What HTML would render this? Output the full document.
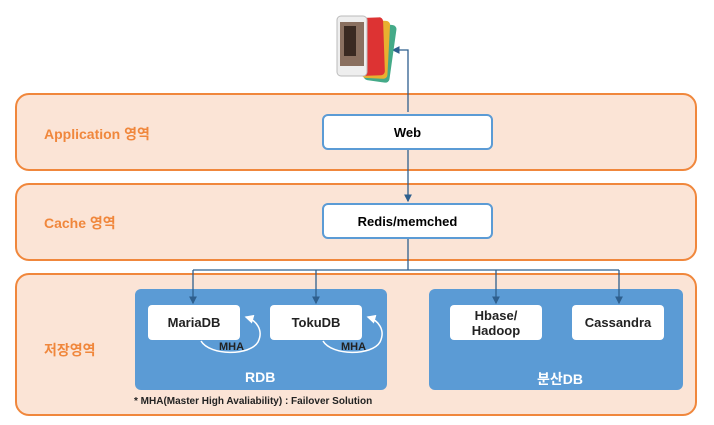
<!DOCTYPE html>
<html><head><meta charset="utf-8"><style>
body{margin:0;width:714px;height:425px;background:#fff;position:relative;overflow:hidden;font-family:"Liberation Sans","Noto Sans CJK KR",sans-serif;font-weight:bold}
.band{position:absolute;left:15px;width:682px;background:#fbe4d6;border:2px solid #f0873c;border-radius:14px;box-sizing:border-box}
.lbl{position:absolute;color:#f0873c;font-size:14px}
.node{position:absolute;background:#fff;border:2px solid #5b9bd5;border-radius:6px;box-sizing:border-box;display:flex;align-items:center;justify-content:center;font-size:13px;color:#000}
.blue{position:absolute;background:#5b9bd5;border-radius:6px}
.db{position:absolute;background:#fff;border-radius:4px;display:flex;align-items:center;justify-content:center;text-align:center;font-size:13px;line-height:15px;color:#222;width:92px;height:35px;top:305px}
.wt{position:absolute;color:#fff;font-size:14px}
</style></head><body>
<div class="band" style="top:93px;height:78px"></div>
<div class="band" style="top:183px;height:78px"></div>
<div class="band" style="top:273px;height:143px"></div>
<div class="lbl" style="left:44px;top:124px">Application 영역</div>
<div class="lbl" style="left:44px;top:213px">Cache 영역</div>
<div class="lbl" style="left:44px;top:340px">저장영역</div>
<div class="node" style="left:322px;top:114px;width:171px;height:36px">Web</div>
<div class="node" style="left:322px;top:203px;width:171px;height:36px">Redis/memched</div>
<div class="blue" style="left:135px;top:289px;width:252px;height:101px"></div>
<div class="blue" style="left:429px;top:289px;width:254px;height:101px"></div>
<div class="db" style="left:148px">MariaDB</div>
<div class="db" style="left:270px">TokuDB</div>
<div class="db" style="left:450px">Hbase/<br>Hadoop</div>
<div class="db" style="left:572px">Cassandra</div>
<div class="wt" style="left:245px;top:369px">RDB</div>
<div class="wt" style="left:537px;top:369px">분산DB</div>
<div style="position:absolute;left:134px;top:396px;font-size:10px;color:#222">* MHA(Master High Avaliability) : Failover Solution</div>
<div style="position:absolute;left:219px;top:341px;font-size:11px;color:#222">MHA</div>
<div style="position:absolute;left:341px;top:341px;font-size:11px;color:#222">MHA</div>
<svg width="714" height="425" style="position:absolute;left:0;top:0">
<defs><marker id="a" markerWidth="6" markerHeight="6" refX="5" refY="3" orient="auto"><path d="M0,0L6,3L0,6z" fill="#2e5f8e"/></marker>
<marker id="w" markerWidth="6" markerHeight="6" refX="5" refY="3" orient="auto"><path d="M0,0L6,3L0,6z" fill="#fff"/></marker></defs>
<g stroke="#2e5f8e" stroke-width="1.3" fill="none">
<path d="M408,112V50H393" marker-end="url(#a)"/>
<path d="M408,150V201" marker-end="url(#a)"/>
<path d="M408,239V270"/>
<path d="M193,270H619"/>
<path d="M193,270V303" marker-end="url(#a)"/>
<path d="M316,270V303" marker-end="url(#a)"/>
<path d="M496,270V303" marker-end="url(#a)"/>
<path d="M619,270V303" marker-end="url(#a)"/>
</g>
<g stroke="#fff" stroke-width="1.5" fill="none">
<path d="M201,341C210,356 250,356 258,342C264,330 256,320 246,317" marker-end="url(#w)"/>
<path d="M323,341C332,356 372,356 380,342C386,330 378,320 368,317" marker-end="url(#w)"/>
</g>
<g transform="rotate(-6 362 50)">
<rect x="360" y="22" width="26" height="58" rx="4" fill="#4a8" transform="rotate(14 362 80)"/>
<rect x="358" y="20" width="26" height="58" rx="4" fill="#e8b030" transform="rotate(9 362 80)"/>
<rect x="356" y="18" width="26" height="58" rx="4" fill="#d33" transform="rotate(4 362 80)"/>
</g>
<rect x="337" y="16" width="30" height="60" rx="4" fill="#eee" stroke="#bbb"/>
<rect x="340" y="22" width="24" height="44" fill="#8a7060"/>
<rect x="344" y="26" width="12" height="30" fill="#3a2a22"/>
</svg>
</body></html>
